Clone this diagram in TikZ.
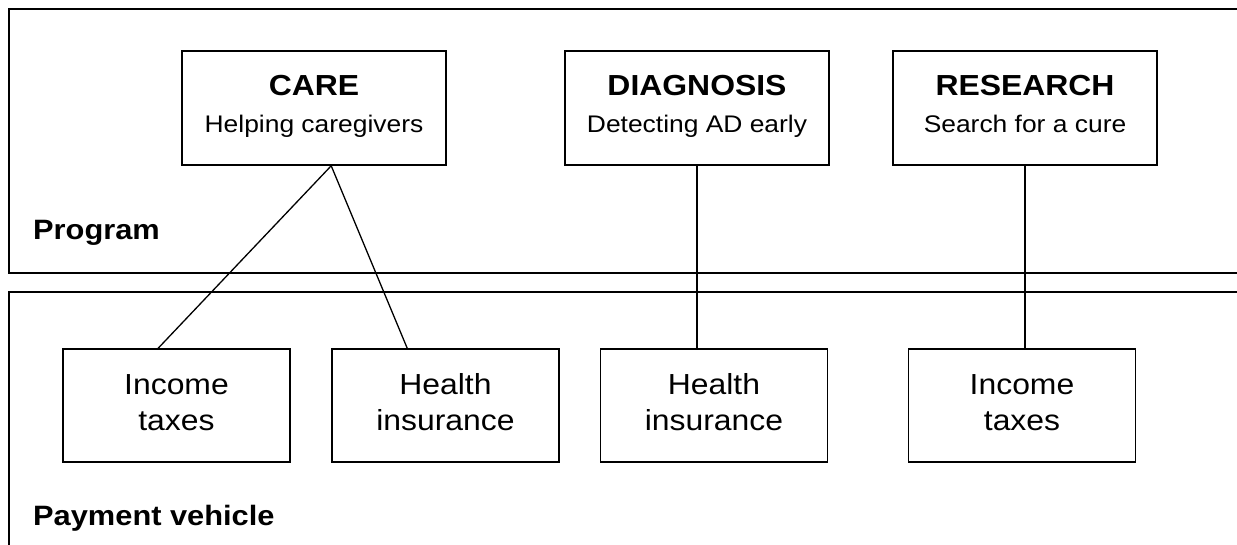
\documentclass[tikz,border=0pt]{standalone}
\usepackage{fontspec}
\setmainfont{Liberation Sans}[FakeStretch=1.1]
\usetikzlibrary{calc}
\begin{document}
\begin{tikzpicture}[x=1pt,y=-1pt,
  frame/.style={draw, line width=1.8pt},
  tbox/.style={draw, line width=1.6pt, minimum width=264pt, minimum height=114pt, inner sep=0pt},
  pbox/.style={draw, line width=1.6pt, minimum width=227pt, minimum height=113pt, inner sep=0pt},
  title/.style={anchor=base, inner sep=0pt, font=\fontsize{29}{29}\selectfont\bfseries},
  subtitle/.style={anchor=base, inner sep=0pt, font=\fontsize{24}{24}\selectfont},
  ptext/.style={anchor=base, inner sep=0pt, font=\fontsize{29}{29}\selectfont},
  group/.style={anchor=base west, inner sep=0pt, font=\fontsize{28}{28}\selectfont\bfseries},
  link/.style={draw, line width=1.3pt}]
\useasboundingbox (0,0) rectangle (1237,545);
\clip (0,0) rectangle (1237,545);

% the two panels, open to the right (and to the bottom)
\draw[frame] (1260,9) -- (9,9) -- (9,273) -- (1260,273);
\draw[frame] (1260,292) -- (9,292) -- (9,570);
\node[group] (prog) at (33,240) {Program};
\node[group] (pay) at (33,525) {Payment vehicle};

% programs
\node[tbox] (care) at (314,108) {};
\node[title] (careT) at (314,96) {CARE};
\node[subtitle] (careS) at (314,133) {Helping caregivers};

\node[tbox] (diag) at (697,108) {};
\node[title] (diagT) at (697,96) {DIAGNOSIS};
\node[subtitle] (diagS) at (697,133) {Detecting AD early};

\node[tbox] (res) at (1025,108) {};
\node[title] (resT) at (1025,96) {RESEARCH};
\node[subtitle] (resS) at (1025,133) {Search for a cure};

% payment vehicles
\node[pbox] (inc1) at (176.5,405.5) {};
\node[ptext] (inc1a) at (176.5,394) {Income};
\node[ptext] (inc1b) at (176.5,430) {taxes};

\node[pbox] (hi1) at (445.5,405.5) {};
\node[ptext] (hi1a) at (445.5,394) {Health};
\node[ptext] (hi1b) at (445.5,430) {insurance};

\node[pbox] (hi2) at (714,405.5) {};
\node[ptext] (hi2a) at (714,394) {Health};
\node[ptext] (hi2b) at (714,430) {insurance};

\node[pbox] (inc2) at (1022,405.5) {};
\node[ptext] (inc2a) at (1022,394) {Income};
\node[ptext] (inc2b) at (1022,430) {taxes};

% connectors
\coordinate (careapex) at ($(care.south west)+(150,0)$);
\coordinate (inc1top) at ($(inc1.north west)+(96,0)$);
\coordinate (hi1top) at ($(hi1.north west)+(76,0)$);
\draw[link] (inc1top) -- (careapex) -- (hi1top);
\draw[link] (diag.south) -- (diag.south |- hi2.north);
\draw[link] (res.south) -- (res.south |- inc2.north);
\end{tikzpicture}
\end{document}
